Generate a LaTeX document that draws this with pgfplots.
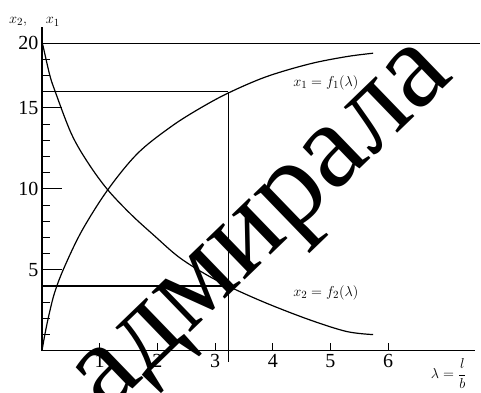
\documentclass[border=0pt]{standalone}
\usepackage{pgfplots}
\pgfplotsset{compat=1.18}
\usepackage{fontspec}
\setmainfont{Liberation Serif}

\begin{document}
\begin{tikzpicture}[x=1pt,y=1pt]
\begin{axis}[
  scale only axis, width=433pt, height=324pt,
  xmin=0, xmax=7.5, ymin=0, ymax=22,
  % the scale is compressed above 18 so that 20 sits one step above 18
  y coord trafo/.code={\pgfmathparse{#1>18 ? 18+(#1-18)/2 : #1}},
  y coord inv trafo/.code={\pgfmathparse{#1>18 ? 18+2*(#1-18) : #1}},
  axis lines=left, axis line style={-, line width=1.3pt},
  clip=false,
  tick align=inside,
  major tick length=20pt, minor tick length=8pt,
  every tick/.style={black, line width=1pt},
  xtick={1,2,3,4,5,6}, minor xtick={1,2,3,4,5,6},
  major x tick style={draw=none},
  ytick={5,10,15,20},
  minor ytick={1,2,3,4,6,7,8,9,11,12,13,14,16,17,18},
  ticklabel style={font=\fontsize{20}{20}\selectfont},
  /pgf/number format/assume math mode=true,
]
% x1 = f1(lambda)
\addplot[black, line width=1.2pt, smooth, tension=0.55] coordinates {
  (0,0) (0.05,1.0) (0.12,2.2) (0.22,3.6) (0.38,5.1) (0.69,7.4) (1.14,9.94)
  (1.66,12.2) (2.24,13.85) (2.74,14.98) (3.24,15.94) (3.89,16.93)
  (4.64,17.72) (5.28,18.34) (5.74,18.76)
};
% x2 = f2(lambda)
\addplot[black, line width=1.2pt, smooth, tension=0.55] coordinates {
  (0,20) (0.02,19.6) (0.13,17.1) (0.22,16.1) (0.51,13.4) (0.80,11.6)
  (1.14,9.94) (1.55,8.4) (1.95,7.1) (2.36,5.82) (2.8,4.8) (3.24,3.97)
  (3.89,2.94) (4.64,1.91) (5.28,1.19) (5.74,1.0)
};
% reading lines at lambda = 3.23
\draw[black, line width=1.1pt] (axis cs:0,20) -- (axis cs:7.6,20);
\draw[black, line width=1.1pt] (axis cs:0,16) -- (axis cs:3.23,16);
\draw[black, line width=1.1pt] (axis cs:0,4) -- (axis cs:3.23,4);
\draw[black, line width=1.1pt] (axis cs:3.23,16) -- (axis cs:3.23,-0.7);
\end{axis}

% labels
\node[font=\fontsize{15}{15}\selectfont] at (284,268) {$x_1 = f_1(\lambda)$};
\node[font=\fontsize{15}{15}\selectfont] at (284,58) {$x_2 = f_2(\lambda)$};
\node[font=\fontsize{15}{15}\selectfont] at (-24,329) {$x_2,$};
\node[font=\fontsize{15}{15}\selectfont] at (11,329) {$x_1$};
\node[font=\fontsize{14}{14}\selectfont] at (407,-23) {$\lambda = \displaystyle\frac{l}{b}$};

% watermark
\begin{scope}
\clip (-42,-42) rectangle (439,351);
\node[overlay, rotate=44, font=\fontsize{121}{121}\selectfont] at (228,116) {адмирала};
\end{scope}
\path (-42,-42) rectangle (439,351);
\end{tikzpicture}
\end{document}
